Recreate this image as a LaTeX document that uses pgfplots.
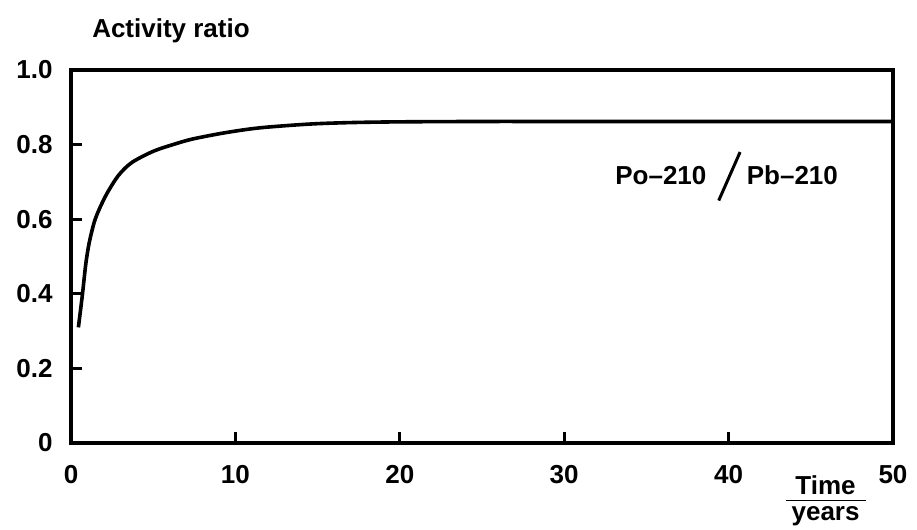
\documentclass[border=0pt]{standalone}
\usepackage{fontspec}
\setmainfont{Liberation Sans}
\usepackage{pgfplots}
\pgfplotsset{compat=1.18}

\newcommand{\lblfont}{\fontsize{13}{15}\selectfont\bfseries}

\begin{document}
\begin{tikzpicture}
\begin{axis}[
    scale only axis,
    width=411pt, height=186.5pt,
    xmin=0, xmax=50, ymin=0, ymax=1,
    line width=1.8pt,
    axis line style={line width=1.8pt},
    every tick/.style={black, line width=1.6pt},
    tick align=inside,
    major tick length=5.5pt,
    xtick={0,10,20,30,40,50},
    xticklabels={0,10,20,30,40,50},
    ytick={0,0.2,0.4,0.6,0.8,1},
    yticklabels={0,0.2,0.4,0.6,0.8,1.0},
    xtick pos=bottom, ytick pos=left,
    every tick label/.append style={font=\lblfont},
    xticklabel style={yshift=-7pt},
    yticklabel style={xshift=-5pt},
    clip=false,
]
\addplot[black, line width=1.8pt, smooth, tension=0.5] coordinates {
    (0.45,0.31) (0.7,0.40) (0.9,0.48) (1.1,0.535) (1.4,0.59)
    (1.7,0.625) (2.2,0.67) (2.9,0.718) (3.7,0.752) (5.0,0.782)
    (6.2,0.80) (7.4,0.815) (9.4,0.832) (11.5,0.845) (14.5,0.855)
    (17,0.859) (20,0.861) (25,0.862) (30,0.862) (40,0.862) (50,0.862)
};
\node[font=\lblfont, anchor=west, inner sep=0pt]
    at (axis cs:33.0,0.718) {Po--210};
\draw[line width=1.5pt] (axis cs:39.4,0.65) -- (axis cs:40.7,0.78);
\node[font=\lblfont, anchor=west, inner sep=0pt]
    at (axis cs:41.0,0.718) {Pb--210};
\node[font=\lblfont]
    at ([xshift=50pt,yshift=19.5pt]rel axis cs:0,1) {Activity ratio};
\node[font=\lblfont, anchor=north, inner sep=0pt]
    at ([yshift=-15pt]axis cs:45.9,0) {\setlength{\tabcolsep}{3pt}\renewcommand{\arraystretch}{0.92}%
    \begin{tabular}{c}Time\\[-1pt]\hline years\end{tabular}};
\end{axis}
\pgfresetboundingbox
\path (-35.5pt,-43.5pt) rectangle (423pt,221.5pt);
\end{tikzpicture}
\end{document}
